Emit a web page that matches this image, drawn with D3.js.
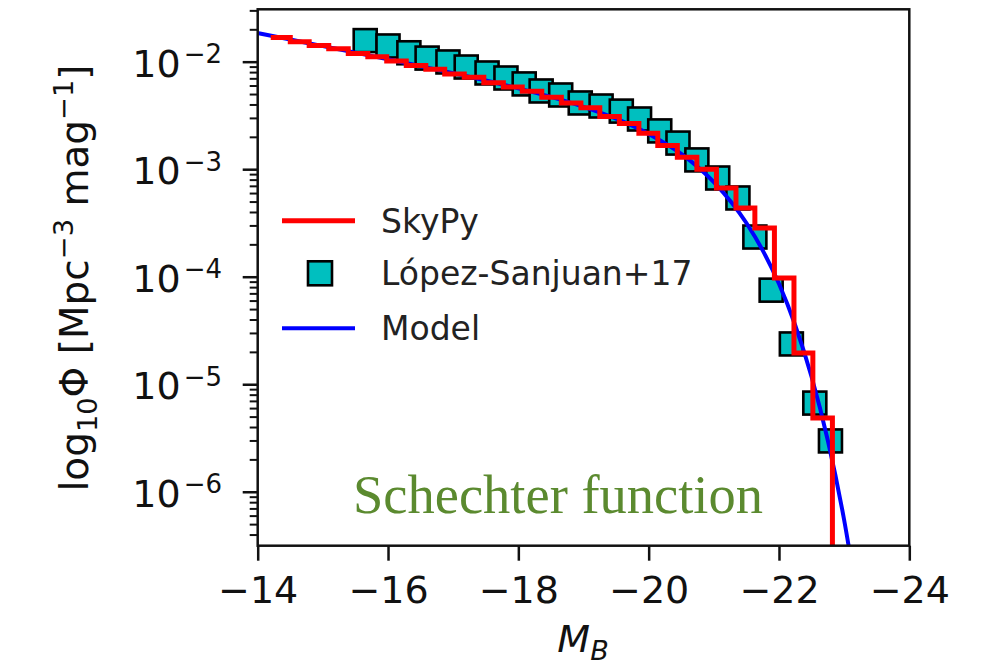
<!DOCTYPE html>
<html><head><meta charset="utf-8">
<script src="https://cdn.jsdelivr.net/npm/d3@7"></script>
<style>body{margin:0;background:#fff} svg{display:block}</style>
</head><body><svg id="c" width="998" height="669"></svg>
<script>
// ---- data ----
const dataM   = [-15.65,-16.0,-16.32,-16.6,-16.92,-17.2,-17.52,-17.81,-18.09,-18.35,-18.65,-18.95,-19.27,-19.58,-19.86,-20.17,-20.45,-20.74,-21.06,-21.37,-21.63,-21.88,-22.19,-22.55,-22.79];
const dataPhi = [0.0157,0.0140,0.0121,0.0108,0.00994,0.00892,0.00785,0.00705,0.00621,0.00534,0.0049,0.00413,0.00387,0.00347,0.00293,0.00227,0.00175,0.00122,8.28e-4,5.4e-4,2.34e-4,7.5e-5,2.37e-5,6.68e-6,2.97e-6];

const modelM   = [-14,-14.5,-15,-15.5,-16,-16.5,-17,-17.5,-18,-18.5,-19,-19.5,-20,-20.5,-21,-21.5,-21.75,-22,-22.25,-22.5,-22.75,-23,-23.25];
const modelPhi = [0.01845,0.01607,0.01396,0.01213,0.01052,0.00908,0.00782,0.00668,0.00565,0.00470,0.00380,0.00295,0.00213,0.00139,7.59e-4,3.16e-4,1.76e-4,8.59e-5,3.53e-5,1.175e-5,3.0e-6,5.46e-7,6.5e-8];

const skypyEdges = [-14.20,-14.50,-14.79,-15.09,-15.39,-15.69,-15.98,-16.28,-16.58,-16.87,-17.17,-17.47,-17.77,-18.06,-18.36,-18.66,-18.96,-19.25,-19.55,-19.85,-20.14,-20.44,-20.74,-21.04,-21.34,-21.63,-21.93,-22.23,-22.52,-22.82];
const skypyPhi = [0.01679,0.01531,0.01413,0.01318,0.01189,0.01109,0.01012,0.00923,0.00851,0.00767,0.00716,0.00638,0.00582,0.00531,0.00468,0.00412,0.00372,0.00309,0.00266,0.00216,0.00166,0.00129,0.00100,6.68e-4,4.36e-4,2.84e-4,9.73e-5,1.95e-5,4.85e-6];

const xTicks = [-14,-16,-18,-20,-22,-24];
const yTicks = [1e-2,1e-3,1e-4,1e-5,1e-6];
const yTickExp = ["−2","−3","−4","−5","−6"];
const legendLabels = ["SkyPy","López-Sanjuan+17","Model"];
const annotation = "Schechter function";

// ---- layout ----
const L = 257.7, R = 909.3, T = 9.3, B = 545.7;
const svg = d3.select("#c");
const x = d3.scaleLinear().domain([-14,-24]).range([L,R]);
const y = d3.scaleLog().domain([3.15e-7, 0.0307]).range([B,T]);
const FONT = "DejaVu Sans, sans-serif";
const teal = "#00BFBF";

svg.append("defs").append("clipPath").attr("id","clip")
  .append("rect").attr("x",L).attr("y",T).attr("width",R-L).attr("height",B-T);

const plot = svg.append("g").attr("clip-path","url(#clip)");

// data squares
const S = 23;
plot.append("g").selectAll("rect").data(dataM.map((m,i)=>[m,dataPhi[i]])).join("rect")
  .attr("x",d=>x(d[0])-S/2).attr("y",d=>y(d[1])-S/2)
  .attr("width",S).attr("height",S)
  .attr("fill",teal).attr("stroke","#000").attr("stroke-width",2.6);

// model line
plot.append("path")
  .datum(modelM.map((m,i)=>[m,modelPhi[i]]))
  .attr("d", d3.line().x(d=>x(d[0])).y(d=>y(d[1])).curve(d3.curveMonotoneX))
  .attr("fill","none").attr("stroke","#0000ff").attr("stroke-width",4);

// SkyPy step histogram
const stepPts = [];
skypyPhi.forEach((v,i)=>{ stepPts.push([skypyEdges[i],v]); stepPts.push([skypyEdges[i+1],v]); });
stepPts.push([skypyEdges[skypyEdges.length-1], 1e-9]);
plot.append("path").datum(stepPts)
  .attr("d", d3.line().x(d=>x(d[0])).y(d=>y(d[1])))
  .attr("fill","none").attr("stroke","#ff0000").attr("stroke-width",5).attr("stroke-linejoin","miter");

// axes
const xAxis = svg.append("g").attr("transform",`translate(0,${B})`)
  .call(d3.axisBottom(x).tickValues(xTicks).tickSize(15).tickFormat(d=>"−"+Math.abs(d)));
xAxis.select(".domain").remove();
xAxis.selectAll("line").attr("stroke","#111").attr("stroke-width",2.5);
xAxis.selectAll("text").attr("y",57).attr("dy",0).attr("fill","#111")
  .attr("font-family",FONT).attr("font-size",38);

// y minor ticks
const minor = [];
for (let e=-7; e<=-2; e++) for (let k=2;k<=9;k++){ const v=k*Math.pow(10,e); if (v>y.domain()[0] && v<y.domain()[1]) minor.push(v); }
const yMinor = svg.append("g").attr("transform",`translate(${L},0)`)
  .call(d3.axisLeft(y).tickValues(minor).tickSize(8).tickFormat(""));
yMinor.select(".domain").remove();
yMinor.selectAll("line").attr("stroke","#111").attr("stroke-width",2);

const yAxis = svg.append("g").attr("transform",`translate(${L},0)`)
  .call(d3.axisLeft(y).tickValues(yTicks).tickSize(15).tickFormat(""));
yAxis.select(".domain").remove();
yAxis.selectAll("line").attr("stroke","#111").attr("stroke-width",2.5);

// y tick labels with superscripts
yTicks.forEach((v,i)=>{
  const t = svg.append("text").attr("x",222).attr("y",y(v)+15)
    .attr("text-anchor","end").attr("font-family",FONT).attr("font-size",38).attr("fill","#111");
  t.append("tspan").text("10");
  t.append("tspan").attr("font-size",26).attr("dy",-13.5).attr("dx",3).text(yTickExp[i]);
});

// frame
svg.append("rect").attr("x",L).attr("y",T).attr("width",R-L).attr("height",B-T)
  .attr("fill","none").attr("stroke","#111").attr("stroke-width",2.5);

// x label
const xl = svg.append("text").attr("x",583).attr("y",652).attr("text-anchor","middle")
  .attr("font-family",FONT).attr("font-size",38).attr("font-style","italic").attr("fill","#111");
xl.append("tspan").text("M");
xl.append("tspan").attr("font-size",27).attr("dy",8).text("B");

// y label
const F = 39;
const yl = svg.append("text").attr("transform","translate(88,278) rotate(-90)")
  .attr("text-anchor","middle").attr("font-family",FONT).attr("font-size",F).attr("fill","#111");
yl.append("tspan").text("log");
yl.append("tspan").attr("font-size",0.7*F).attr("dy",0.22*F).text("10");
yl.append("tspan").attr("dy",-0.22*F).text("Φ [Mpc");
yl.append("tspan").attr("font-size",0.7*F).attr("dy",-0.38*F).text("−3");
yl.append("tspan").attr("dy",0.38*F).text(" mag");
yl.append("tspan").attr("font-size",0.7*F).attr("dy",-0.38*F).text("−1");
yl.append("tspan").attr("dy",0.38*F).text("]");

// legend
const rows = [220.7, 273.3, 328.3];
const lg = svg.append("g");
lg.append("line").attr("x1",282).attr("x2",355).attr("y1",rows[0]).attr("y2",rows[0])
  .attr("stroke","#ff0000").attr("stroke-width",5);
lg.append("rect").attr("x",320-12).attr("y",rows[1]-12).attr("width",24).attr("height",24)
  .attr("fill",teal).attr("stroke","#000").attr("stroke-width",2.6);
lg.append("line").attr("x1",282).attr("x2",355).attr("y1",rows[2]).attr("y2",rows[2])
  .attr("stroke","#0000ff").attr("stroke-width",4);
legendLabels.forEach((s,i)=>{
  lg.append("text").attr("x",381).attr("y",rows[i]+12).attr("font-family",FONT)
    .attr("font-size",33).attr("fill","#222").text(s);
});

// annotation
svg.append("text").attr("x",353).attr("y",513).attr("font-family","Liberation Serif, serif")
  .attr("font-size",54).attr("fill","#5b8a2f").attr("textLength",410).attr("lengthAdjust","spacingAndGlyphs")
  .text(annotation);
</script></body></html>
